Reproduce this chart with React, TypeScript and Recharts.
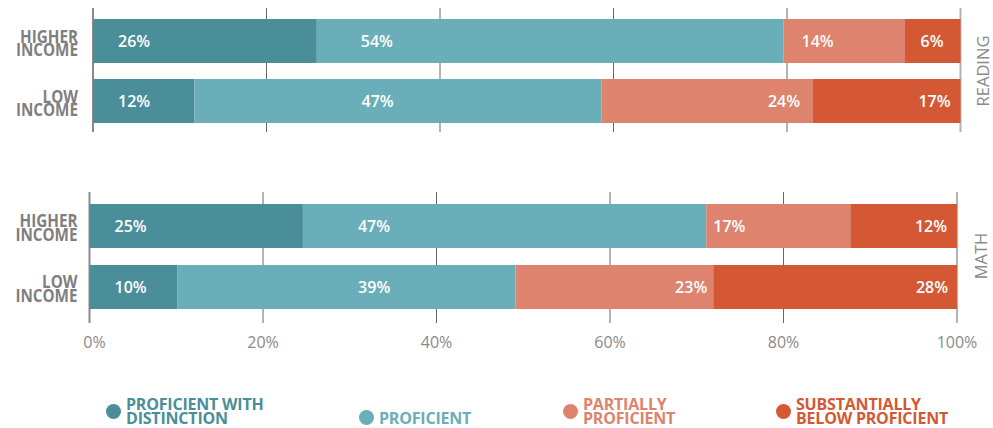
import { BarChart, Bar, XAxis, YAxis, CartesianGrid, LabelList, Legend } from "recharts";

const categories = ["HIGHER INCOME", "LOW INCOME"];
const xTicks = [0, 20, 40, 60, 80, 100];

// Reading: segment widths measured off the bars, labels as printed
const readingDistinction = [25.8, 11.7];
const readingProficient = [53.8, 46.9];
const readingPartial = [14.0, 24.4];
const readingBelow = [6.4, 17.0];
const readingDistinctionLabel = ["26%", "12%"];
const readingProficientLabel = ["54%", "47%"];
const readingPartialLabel = ["14%", "24%"];
const readingBelowLabel = ["6%", "17%"];

// Math
const mathDistinction = [24.6, 10.1];
const mathProficient = [46.5, 39.0];
const mathPartial = [16.6, 22.8];
const mathBelow = [12.3, 28.1];
const mathDistinctionLabel = ["25%", "10%"];
const mathProficientLabel = ["47%", "39%"];
const mathPartialLabel = ["17%", "23%"];
const mathBelowLabel = ["12%", "28%"];

const series = [
  { key: "distinction", name: "PROFICIENT WITH DISTINCTION", lines: ["PROFICIENT WITH", "DISTINCTION"], color: "#4a8e99" },
  { key: "proficient", name: "PROFICIENT", lines: ["PROFICIENT"], color: "#6aaeb9" },
  { key: "partial", name: "PARTIALLY PROFICIENT", lines: ["PARTIALLY", "PROFICIENT"], color: "#dd836e" },
  { key: "below", name: "SUBSTANTIALLY BELOW PROFICIENT", lines: ["SUBSTANTIALLY", "BELOW PROFICIENT"], color: "#d45834" },
];

const FONT = "'Open Sans', 'DejaVu Sans', sans-serif";
const GRAY = "#7f7f7f";

const buildRows = (d: number[], p: number[], pp: number[], b: number[], dl: string[], pl: string[], ppl: string[], bl: string[]) =>
  categories.map((name, i) => ({
    name,
    distinction: d[i],
    proficient: p[i],
    partial: pp[i],
    below: b[i],
    distinctionLabel: dl[i],
    proficientLabel: pl[i],
    partialLabel: ppl[i],
    belowLabel: bl[i],
  }));

const readingData = buildRows(
  readingDistinction, readingProficient, readingPartial, readingBelow,
  readingDistinctionLabel, readingProficientLabel, readingPartialLabel, readingBelowLabel
);
const mathData = buildRows(
  mathDistinction, mathProficient, mathPartial, mathBelow,
  mathDistinctionLabel, mathProficientLabel, mathPartialLabel, mathBelowLabel
);

// where each value label sits inside its segment: [anchor, inset px]
type Pos = [string, number][];
const readingLabelPos: Record<string, Pos> = {
  distinction: [["start", 25], ["start", 25]],
  proficient: [["start", 44], ["start", 167]],
  partial: [["start", 18], ["end", 13]],
  below: [["end", 17], ["end", 10]],
};
const mathLabelPos: Record<string, Pos> = {
  distinction: [["start", 25], ["start", 25]],
  proficient: [["start", 55], ["start", 181]],
  partial: [["start", 7], ["end", 6]],
  below: [["end", 10], ["end", 9]],
};

const makeLabel = (pos: Pos) => (props: any) => {
  const vb = props.viewBox || props;
  const x = Number(vb.x);
  const y = Number(vb.y);
  const w = Number(vb.width);
  const h = Number(vb.height);
  const [anchor, inset] = pos[props.index] || ["middle", 0];
  const tx = anchor === "start" ? x + inset : x + w - inset;
  return (
    <text
      x={tx}
      y={y + h / 2}
      dy="0.36em"
      textAnchor={anchor}
      fill="#ffffff"
      fontSize={16}
      fontWeight={600}
      fontFamily={FONT}
    >
      {props.value}
    </text>
  );
};

// two-line, slightly condensed category labels
const IncomeTick = ({ x, y, payload }: any) => {
  const words = String(payload.value).split(" ");
  return (
    <text
      transform={`translate(${x},${y}) scale(0.87,1)`}
      x={0}
      y={0}
      textAnchor="end"
      fill={GRAY}
      fontSize={17.5}
      fontWeight={700}
      fontFamily={FONT}
    >
      {words.map((w, i) => (
        <tspan key={i} x={0} dy={i === 0 ? 1.5 : 13.6}>
          {w}
        </tspan>
      ))}
    </text>
  );
};

const PercentTick = ({ x, y, payload }: any) => (
  <text
    x={x + (payload.value === 0 ? 5 : 0)}
    y={y}
    dy="0.71em"
    textAnchor="middle"
    fill="#8a8a8a"
    fontSize={16}
    fontFamily={FONT}
  >
    {`${payload.value}%`}
  </text>
);

const gridLine = (extTop: number, extBottom: number) => (props: any) => {
  const last = props.index === xTicks.length - 1;
  const first = props.index === 0;
  return (
    <line
      key={props.key ?? props.index}
      x1={props.x1}
      x2={props.x2}
      y1={props.y1 - extTop}
      y2={props.y2 + extBottom}
      stroke={first ? "#8a8a8a" : last ? "#b3b3b3" : "#666666"}
      strokeWidth={first || last ? 2 : 1}
    />
  );
};

const sideLabel = (text: string) => (props: any) => {
  const vb = props.viewBox;
  const cx = vb.x + vb.width / 2 + 6;
  const cy = vb.y + vb.height / 2;
  return (
    <text
      x={cx}
      y={cy}
      transform={`rotate(-90 ${cx} ${cy})`}
      textAnchor="middle"
      dy="0.36em"
      fill="#8a8a8a"
      fontSize={16.5}
      fontFamily={FONT}
    >
      {text}
    </text>
  );
};

const legendLeft = [106, 359, 563, 776];

const LegendContent = () => (
  <div style={{ position: "relative", width: 993, height: 32 }}>
    {series.map((s, i) => (
      <div
        key={s.key}
        style={{
          position: "absolute",
          left: legendLeft[i],
          bottom: 3,
          display: "flex",
          alignItems: "center",
        }}
      >
        <span
          style={{
            display: "inline-block",
            width: 15,
            height: 15,
            borderRadius: "50%",
            background: s.color,
            marginRight: 5,
            flexShrink: 0,
          }}
        />
        <span
          style={{
            color: s.color,
            fontFamily: FONT,
            fontWeight: 700,
            fontSize: 16,
            lineHeight: "14px",
            letterSpacing: -0.2,
            whiteSpace: "nowrap",
          }}
        >
          {s.lines.map((l, j) => (
            <div key={j}>{l}</div>
          ))}
        </span>
      </div>
    ))}
  </div>
);

const renderBars = (pos: Record<string, Pos>) =>
  series.map((s) => (
    <Bar key={s.key} dataKey={s.key} name={s.name} stackId="a" fill={s.color} barSize={44} isAnimationActive={false}>
      <LabelList dataKey={`${s.key}Label`} content={makeLabel(pos[s.key])} />
    </Bar>
  ));

export default function App() {
  return (
    <div style={{ position: "absolute", left: 0, top: 0, width: 993, height: 428, background: "#fff" }}>
      {/* Reading */}
      <div style={{ position: "absolute", left: 0, top: 0 }}>
        <BarChart width={993} height={140} data={readingData} layout="vertical" margin={{ top: 11, right: 0, bottom: 9, left: 0 }}>
          <CartesianGrid horizontal={false} vertical={gridLine(3, 1)} />
          <XAxis type="number" domain={[0, 100]} ticks={xTicks} hide />
          <YAxis
            type="category"
            dataKey="name"
            width={93}
            axisLine={false}
            tickLine={false}
            tickSize={0}
            tickMargin={15}
            tick={<IncomeTick />}
          />
          <YAxis
            yAxisId="side"
            type="category"
            dataKey="name"
            orientation="right"
            width={32.5}
            axisLine={false}
            tickLine={false}
            tick={false}
            label={{ content: sideLabel("READING") }}
          />
          {renderBars(readingLabelPos)}
        </BarChart>
      </div>

      {/* Math */}
      <div style={{ position: "absolute", left: 0, top: 180 }}>
        <BarChart width={993} height={248} data={mathData} layout="vertical" margin={{ top: 15, right: 0, bottom: 81, left: 0 }}>
          <CartesianGrid horizontal={false} vertical={gridLine(3, 6)} />
          <XAxis
            type="number"
            domain={[0, 100]}
            ticks={xTicks}
            height={30}
            axisLine={false}
            tickLine={false}
            tickSize={0}
            tickMargin={20}
            tick={<PercentTick />}
          />
          <YAxis
            type="category"
            dataKey="name"
            width={89.5}
            axisLine={false}
            tickLine={false}
            tickSize={0}
            tickMargin={12}
            tick={<IncomeTick />}
          />
          <YAxis
            yAxisId="side"
            type="category"
            dataKey="name"
            orientation="right"
            width={36}
            axisLine={false}
            tickLine={false}
            tick={false}
            label={{ content: sideLabel("MATH") }}
          />
          <Legend
            layout="horizontal"
            align="center"
            verticalAlign="middle"
            content={<LegendContent />}
            wrapperStyle={{ left: 0, top: 216, width: 993, height: 32 }}
          />
          {renderBars(mathLabelPos)}
        </BarChart>
      </div>
    </div>
  );
}
